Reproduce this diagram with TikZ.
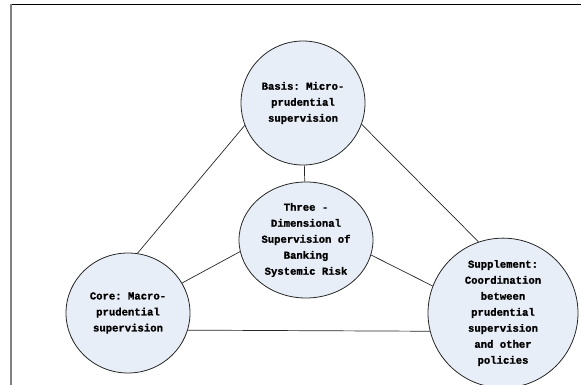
\documentclass[tikz,border=0pt]{standalone}
\usepackage{fontspec}
\setmonofont{Liberation Mono}[BoldFont={Liberation Mono Bold},BoldFeatures={FakeBold=1.2}]
\usetikzlibrary{shapes.geometric}
\definecolor{bubblefill}{RGB}{232,238,247}
\definecolor{framegray}{RGB}{128,128,128}
\tikzset{
	bubble/.style={ellipse, draw=black!85, line width=0.8pt, fill=bubblefill, inner sep=0pt,
		align=center, font=\ttfamily\bfseries\fontsize{10.6}{16}\selectfont},
	link/.style={draw=black!85, line width=0.7pt}
}
\begin{document}
\begin{tikzpicture}[x=1pt,y=-1pt]
		\useasboundingbox (0,0) rectangle (581,385);
		% frame
			\draw [black, line width=1.2pt] (10,4.5) -- (581,4.5);
			\draw [framegray, line width=2pt] (11,4) -- (11,385);
		% the four bubbles
			\node [bubble, minimum width=124, minimum height=124] (basis) at (303,103) {Basis: Micro-\\prudential\\supervision};
			\node [bubble, minimum width=134, minimum height=116] (three) at (306,240) {Three -\\Dimensional\\Supervision of\\Banking\\Systemic Risk};
			\node [bubble, minimum width=124, minimum height=120] (core) at (128,313) {Core: Macro-\\prudential\\supervision};
			\node [bubble, minimum width=150, minimum height=118] (supp) at (503,313) {Supplement:\\Coordination\\between\\prudential\\supervision\\and other\\policies};
		% links
			\draw [link] (basis) -- (three);
			\draw [link] (basis.201) -- (core.81);
			\draw [link] (basis.-20) -- (supp.109);
			\draw [link] (three.190) -- (core.29);
			\draw [link] (three.-13) -- (supp.159);
			\draw [link] (core.-16) -- (supp.-166);
	\end{tikzpicture}
\end{document}
